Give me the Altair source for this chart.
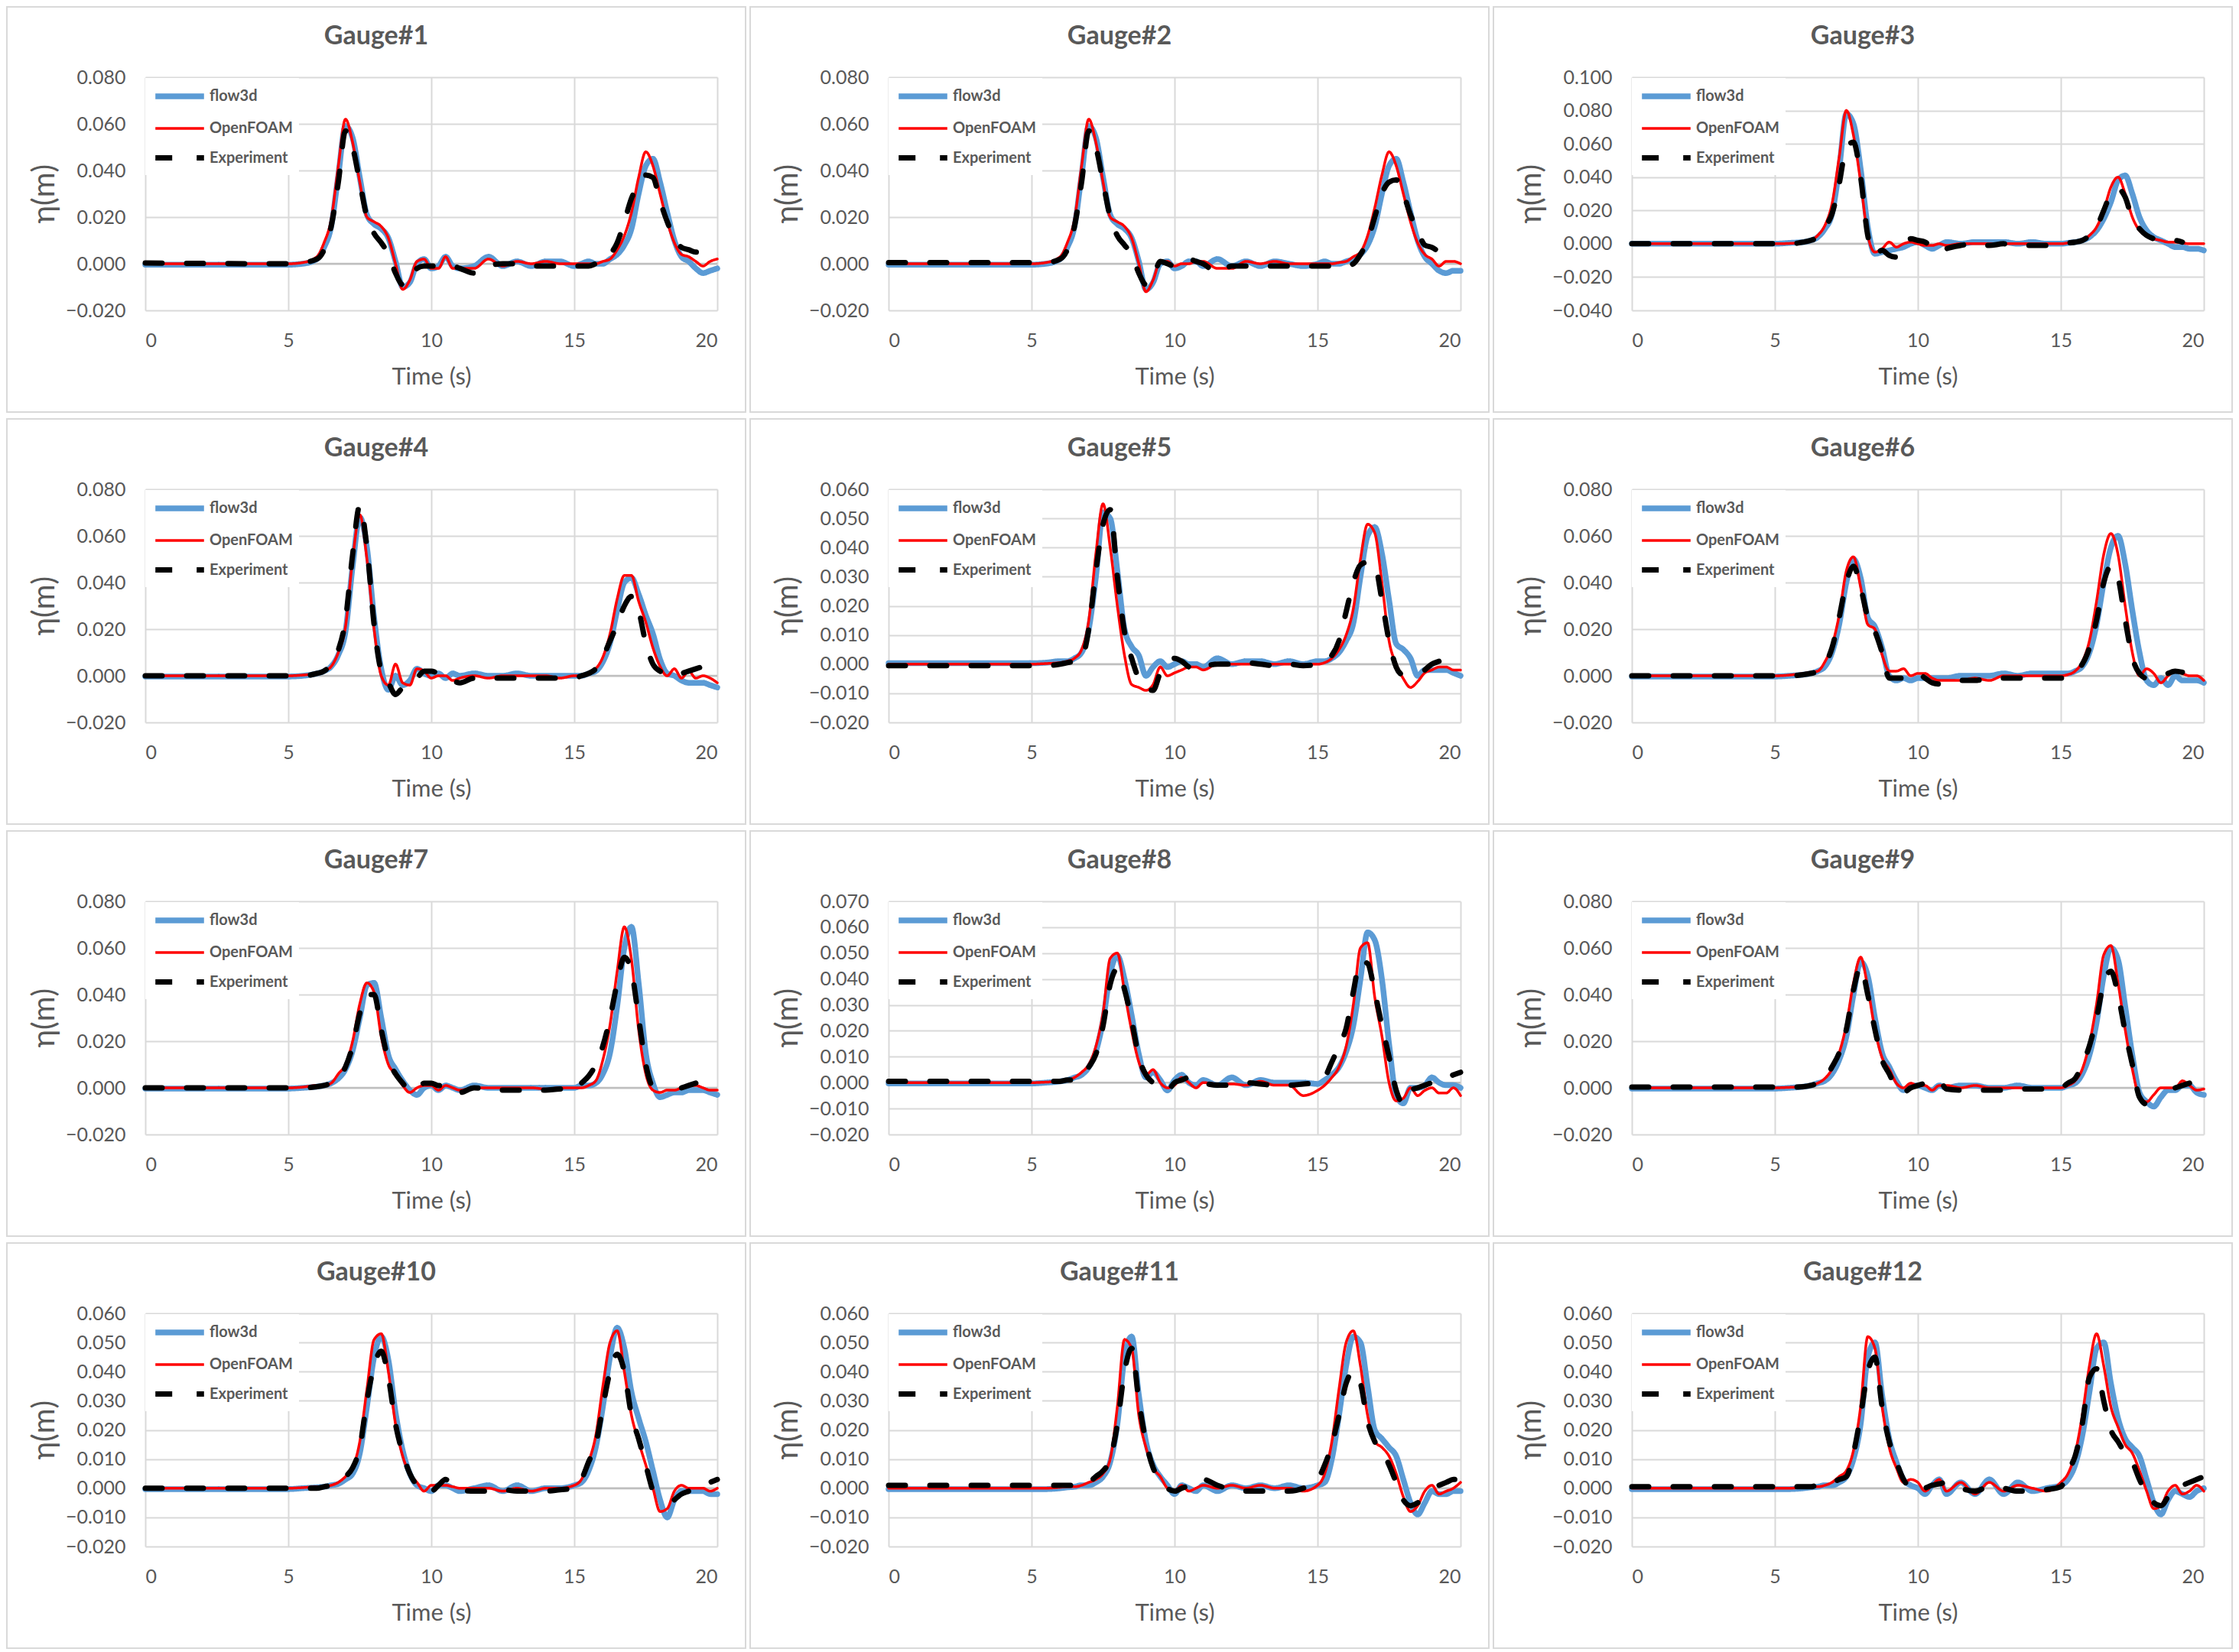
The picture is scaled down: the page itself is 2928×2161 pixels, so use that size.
import altair as alt
import pandas as pd

N = None

# shared time grid (s)
T = [0, 5, 5.5, 6, 6.25, 6.5, 6.75,
     7, 7.25, 7.5, 7.75, 8, 8.25, 8.5, 8.75, 9, 9.25, 9.5, 9.75,
     10, 10.25, 10.5, 10.75, 11, 11.5, 12, 12.5, 13, 13.5, 14, 14.5, 15,
     15.25, 15.5, 15.75, 16, 16.25, 16.5, 16.75, 17, 17.25, 17.5, 17.75, 18, 18.25, 18.5, 18.75, 19, 19.25, 19.5, 19.75, 20]

# surface elevation values in mm (converted to m below)
F1 = [-0.4, -0.4, 0, 2, 7, 16, 38,
      59, 54, 37, 21, 17, 15, 11, 1, -10, -8, 0, 2,
      -2, -1, 3, -1, -2, -1, 3, -1, 1, -1, 1, 1, -1,
      0, 1, 0, 0, 2, 4, 8, 15, 30, 42, 45, 35, 22, 10, 3, 1, -2, -4, -3, -2]
O1 = [0, 0, 0.5, 3, 9, 19, 42,
      62, 52, 35, 20, 18, 16, 11, 0, -11, -7, 1, 2,
      -2, -2, 3, -2, -2, -2, 2, -1, 1, 0, 1, 0, 0,
      0, 0, 0, 1, 2, 6, 12, 22, 37, 48, 42, 30, 18, 9, 4, 3, 1, -1, 1, 2]
E1 = [0.3, 0, 0.5, 2, 6, 16, 35,
      57, 50, 35, 20, 13, 9, 4, -4, -9, -8, -2, -1,
      -1, -1, -1, -1, -2, -4, -1, 0, 0, -1, -1, -1, -1,
      -1, -1, 0, 1, 4, 9, 18, 28, 34, 38, 37, 27, 18, 11, 7, 6, 5, 5, 4, 3]

F2 = [-0.4, -0.4, 0, 2, 7, 16, 38,
      59, 54, 37, 21, 17, 15, 11, 1, -11, -8, 0, 1,
      -2, -1, 1, 1, -1, 2, -1, 1, -1, 1, 0, -1, 0,
      1, 0, 0, 1, 2, 4, 8, 16, 30, 42, 45, 35, 22, 10, 3, 0, -3, -4, -3, -3]
O2 = [0, 0, 0.5, 3, 9, 19, 42,
      62, 52, 35, 20, 18, 16, 11, 0, -12, -7, 1, 1,
      -1, 0, 0, 1, 1, -2, -2, 1, 0, 1, 0, 0, 0,
      0, 0, 0.5, 1, 3, 5, 12, 24, 38, 48, 42, 30, 18, 9, 4, 2, -1, 1, 1, 0]
E2 = [0.5, 0.5, 0.5, 2, 6, 16, 35,
      57, 50, 35, 20, 12, 8, 4, -4, -9, -6, 1, 0,
      -1, 0, 2, 1, 0, -4, -1, -1, -1, -1, -1, -1, -1,
      -1, -1, -1, -1, 0, 4, 10, 20, 30, 35, 36, 30, 21, 14, 8, 7, 5, N, N, N]

F3 = [0, 0, 0.5, 1, 2, 4, 9,
      18, 45, 78, 72, 45, 10, -6, -5, -4, -3, -2, 0,
      1, -1, -3, -1, 1, 0, 1, 1, 1, 0, 1, 0, 0,
      0.5, 1, 2, 4, 8, 15, 25, 38, 41, 30, 16, 8, 4, 2, 0, -2, -2, -3, -3, -4]
O3 = [0, 0, 0.2, 1, 2, 5, 11,
      24, 52, 80, 65, 37, 5, -5, -3, 1, -2, 0, 1,
      0, -1, -1, 0, -1, 0, 0, 0, 0, 0, 0, 0, 0,
      0.5, 1, 2, 5, 10, 20, 34, 40, 30, 16, 8, 5, 3, 2, 1, 1, 0.5, 0, 0, 0]
E3 = [0, 0, 0, 1, 2, 4, 10,
      18, 36, 58, 61, 40, 5, -6, -4, -7, -8, -2, 3,
      2, 1, -2, -5, -3, -1, 0, -1, 0, -1, -1, -1, 0,
      0.5, 1, 2, 5, 10, 20, 30, 33, 28, 15, 9, 5, 3, 2, 2, 2, 1, N, N, N]

F4 = [-0.3, -0.3, 0, 1, 2, 4, 9,
      19, 47, 68, 55, 25, 3, -6, 0, -4, -2, 3, 1,
      0, 1, -1, 1, 0, 1, 0, 0, 1, 0, 0, 0, 0,
      0, 1, 2, 6, 14, 28, 40, 42, 35, 26, 18, 7, 1, 0, -2, -3, -3, -3, -4, -5]
O4 = [0, 0, 0.3, 1, 2, 4, 10,
      21, 50, 69, 50, 20, 0, -4, 5, -3, -4, 3, 2,
      -1, 0, 0, -2, -1, 0, -1, 0, 0, 0, 0, -1, 0,
      0, 1, 3, 8, 18, 33, 43, 43, 32, 23, 12, 4, 0, 3, -1, 2, -1, 0, -1, -3]
E4 = [0, 0, 0, 1, 2, 5, 11,
      24, 52, 73, 55, 22, 2, -3, -8, -5, -3, -1, 2,
      2, 1, 0, -2, -3, -1, -1, -1, -1, -1, -1, -1, -1,
      0, 1, 3, 8, 15, 22, 30, 34, 28, 14, 5, 2, 1, 0, 1, 2, 3, 4, N, N]

F5 = [0.3, 0.3, 0.5, 1, 1, 2, 4,
      12, 30, 52, 50, 32, 12, 6, 3, -4, -1, 1, -1,
      0, 1, 0, 0, -1, 2, 0, 1, 1, 0, 1, 0, 1,
      1, 2, 4, 8, 14, 30, 44, 47, 38, 22, 7, 5, 2, -4, -2, -2, -2, -2, -3, -4]
O5 = [0, 0, 0.2, 0.5, 1, 2, 5,
      15, 38, 55, 40, 20, 3, -7, -8, -9, -7, -1, -4,
      -3, -2, -1, -1, -2, 0, 0, 0, 0, 0, 0, 0, 0,
      0.5, 2, 5, 10, 19, 36, 48, 45, 28, 8, 0, -5, -8, -6, -3, -2, -1, -1, -2, -2]
E5 = [-0.5, -0.5, -0.5, 0, 0.5, 1, 2,
      12, 32, 48, 53, 30, 11, 2, -5, -8, -9, -3, 0,
      2, 1, -1, -2, -1, 0, 0, 0.5, 0, -0.5, 0, -0.5, 0,
      1, 3, 8, 18, 28, 34, 35, 34, 22, 8, -1, -4, N, N, -2, 0, 1, 2, 3, 4]

F6 = [-0.3, -0.3, 0, 0.5, 1, 2, 4,
      10, 22, 40, 50, 42, 25, 21, 12, 0, -2, -1, -2,
      -1, -1, -1, -1, -1, 0, 0, 0, 1, 0, 1, 1, 1,
      1, 2, 4, 10, 22, 40, 55, 60, 48, 28, 10, -2, -4, -1, -4, 0, -2, -2, -2, -3]
O6 = [0, 0, 0.3, 1, 1.5, 2, 6,
      13, 26, 45, 51, 38, 22, 20, 9, 2, 2, 3, 0,
      1, 1, -1, -2, -2, -2, -1, -2, 0, 0, 0, 0, 0,
      0.5, 2, 6, 15, 32, 52, 61, 52, 30, 10, 0, 3, 1, -3, 0, 2, 1, 0, 0, -2]
E6 = [0, 0, 0, 0.5, 1, 2, 5,
      12, 25, 40, 47, 38, 25, 19, 10, -1, -1, -1, -0.5,
      1, -1, -3, -3.5, -3.5, -2, -2, -1, -1, -1, -1, -1, -1,
      0, 2, 5, 12, 24, 40, 47, 42, 24, 8, 1, -1, -1, N, 1, 2, 1.5, N, N, N]

F7 = [-0.3, -0.3, 0, 0.5, 1, 2, 4,
      8, 16, 30, 44, 45, 30, 14, 8, 3, -1, -3, 0,
      1, -1, 1, 0, -1, 1, 0, 0, 0, 0, 0, 0, 0,
      1, 1, 2, 6, 15, 35, 60, 69, 45, 15, 2, -4, -3, -2, -2, -1, -1, -1, -2, -3]
O7 = [0, 0, 0.3, 1, 1, 2, 6,
      10, 20, 36, 45, 41, 22, 10, 6, 1, -2, 0, 1,
      1, -1, 1, 0, -1, 0, 0, 0, 0, 0, -0.5, 0, 0,
      0, 1, 3, 12, 27, 50, 69, 55, 25, 6, -1, -2, -1, -1, 0, 1, 1, 0, -1, -1]
E7 = [0, 0, 0, 0.5, 1, 2, 4,
      9, 18, 32, 40, 40, 25, 12, 6, 2, -1, -1, 2,
      2, 1, 1, 0, -2, 0, -0.5, -1, -1, -1, -1, -0.5, -1,
      2, 5, 10, 18, 30, 45, 56, 50, 30, 10, 0, -2, N, N, 0, 1, 2, N, N, N]

F8 = [-0.3, -0.3, 0, 0.5, 1, 2, 3,
      6, 12, 24, 42, 49, 40, 26, 11, 2, 4, 1, -3,
      1, 3, 0, -1, 1, -1, 2, -1, 1, 0, 0, 0, -0.5,
      1, 3, 6, 12, 22, 40, 58, 55, 40, 15, -5, -8, -2, -2, -1, 2, 0, -1, -1, -2]
O8 = [0, 0, 0.2, 0.5, 1, 2, 4,
      7, 14, 27, 48, 50, 35, 20, 8, 3, 5, 0, -2,
      -1, 2, 0, -2, 0, -0.5, -0.5, -1, 0.5, -1, -1, -5, -3,
      -1, 2, 6, 14, 30, 52, 54, 33, 18, 0, -7, -6, -2, -5, -3, -2, -4, -4, -2, -5]
E8 = [0.5, 0.5, 0.5, 0.5, 1, 1, 2,
      6, 11, 22, 38, 44, 36, 24, 10, 3, 0, -1, -3,
      0, 1, 2, 1, 0, -1, -1, 0, -0.5, -1, -1, -0.5, 0,
      2, 8, 14, 21, 35, 47, 46, 35, 22, 10, -3, -8, -3, -2, -1, 0, 1, 2, 3, 4]

F9 = [-0.3, -0.3, 0, 0.5, 1, 2, 3,
      6, 12, 22, 40, 54, 48, 30, 15, 9, 3, -1, 1,
      1, 0, -1, 1, 0, 1, 1, 0, 0, 1, 0, 0, 0,
      1, 2, 6, 14, 28, 48, 60, 55, 35, 14, -2, -6, -8, -4, -1, -1, 1, 1, -2, -3]
O9 = [0, 0, 0.2, 0.5, 1, 2, 4,
      8, 15, 27, 45, 56, 43, 25, 13, 8, 2, 0, 2,
      1, 1, -1, 1, 1, 0, 1, 0, 0, 0, -0.5, 0, 0,
      1, 3, 8, 19, 36, 57, 61, 45, 25, 8, -4, -6, -3, 0, 0, 0, 3, 1, -1, -0.5]
E9 = [0.3, 0.3, 0.3, 0.5, 1, 2, 4,
      9, 15, 25, 42, 52, 40, 25, 12, 6, 0, -2, 0,
      1, 2, 3, 3, -0.5, -1, -1, -1, -1, -0.5, -0.5, -0.5, 0,
      2, 4, 10, 18, 30, 45, 50, 40, 24, 10, -4, -7, -3, N, N, 0, 1, 2, N, N]

F10 = [-0.3, -0.3, 0, 0.3, 0.5, 1, 1.5,
       3, 5, 12, 28, 45, 52, 44, 26, 13, 5, 1, 0,
       -1, 1, 1, 0, -1, 0, 1, -1, 1, -1, 0, 0, 1,
       2, 6, 14, 28, 45, 55, 48, 33, 24, 16, 6, -4, -10, -4, -1, -1, -1, -1, -2, -2]
O10 = [0, 0, 0.2, 0.5, 0.5, 1, 2,
       4, 7, 16, 34, 51, 53, 40, 22, 11, 5, 2, -1,
       1, 1, 1, 0.5, 0, 0, 0, -1, 0, -1, 0, 0, 1,
       3, 9, 18, 35, 50, 54, 40, 25, 16, 8, 0, -8, -7, -1, 1, 0, 0, 0, -1, 0]
E10 = [0, 0, 0, 0, 0.5, 1, 2,
       4, 7, 14, 30, 42, 47, 38, 22, 12, 5, 1, -1,
       -1, 1, 3, 1, -0.5, -1, -1, -0.5, -1, -1, -1, -0.5, 0,
       3, 9, 15, 28, 40, 46, 40, 25, 17, 8, -1, -6, N, -4, -2, -1, 0, 1, 2, 3]

F11 = [-0.3, -0.3, -0.3, 0, 0.3, 0.5, 1,
       1, 2, 4, 9, 22, 45, 52, 32, 16, 8, 4, 1,
       -2, 1, 0, -1, 1, -1, 1, 0, 1, 0, 1, 0, 1,
       2, 10, 25, 42, 52, 50, 35, 20, 17, 14, 11, 3, -5, -9, -5, -1, -2, -2, -1, -1]
O11 = [0, 0, 0, 0.3, 0.5, 0.5, 1,
       2, 3, 5, 10, 28, 51, 48, 25, 14, 7, 4, 0,
       -1, 1, -1, 0, 1, 0, 1, 0, 1, 0, 0, -1, 1,
       5, 16, 34, 50, 54, 42, 25, 16, 14, 11, 5, -3, -8, -6, -1, 1, -2, -1, 0, 2]
E11 = [1, 1, 1, 1, 1, 1, 1,
       2, 4, 6, 10, 22, 40, 48, 30, 16, 7, 3, 0,
       -1, 0, 1, 3, 3, 1, -0.5, -1, -1, -1, -1, 0, 3,
       8, 15, 25, 36, 40, 36, 23, 16, 13, 8, 2, -4, -6, -5, -3, N, 1, 2, 3, 3]

F12 = [-0.3, -0.3, -0.3, 0, 0.3, 0.5, 1,
       1, 2, 4, 10, 22, 45, 50, 32, 17, 9, 3, 1,
       0, -2, 1, 3, -2, 2, -2, 3, -2, 2, -1, 0, 1,
       3, 8, 18, 33, 48, 50, 36, 24, 17, 14, 11, 3, -5, -9, -4, -1, -2, -3, -1, 0]
O12 = [0, 0, 0, 0.3, 0.5, 0.5, 1,
       2, 4, 6, 13, 28, 52, 48, 28, 14, 7, 2, 3,
       2, -1, 1, 3, -1, 2, -2, 2, -1, 1, 0, -1, 2,
       5, 12, 25, 42, 53, 42, 28, 21, 15, 12, 6, -1, -7, -6, -1, 1, -2, -1, 1, -1]
E12 = [0.5, 0.5, 0.5, 0.5, 0.5, 1, 1,
       2, 3, 4, 12, 25, 40, 45, 28, 16, 9, 3, 0,
       -1, 0, 1, 1.5, 2, 0, -1, 0.5, 0, -1, -1, -0.5, 0.5,
       6, 11, 22, 38, 41, 30, 20, 16, 12, 9, 3, -2, -5, -6, -3, 0, 1, 2, 3, 4]

# y-axis tick values per panel
YT_A = [-0.02, 0.0, 0.02, 0.04, 0.06, 0.08]
YT_3 = [-0.04, -0.02, 0.0, 0.02, 0.04, 0.06, 0.08, 0.10]
YT_6 = [-0.02, -0.01, 0.0, 0.01, 0.02, 0.03, 0.04, 0.05, 0.06]
YT_7 = [-0.02, -0.01, 0.0, 0.01, 0.02, 0.03, 0.04, 0.05, 0.06, 0.07]
XT = [0, 5, 10, 15, 20]

PANELS = [
    ("Gauge#1", YT_A, F1, O1, E1),
    ("Gauge#2", YT_A, F2, O2, E2),
    ("Gauge#3", YT_3, F3, O3, E3),
    ("Gauge#4", YT_A, F4, O4, E4),
    ("Gauge#5", YT_6, F5, O5, E5),
    ("Gauge#6", YT_A, F6, O6, E6),
    ("Gauge#7", YT_A, F7, O7, E7),
    ("Gauge#8", YT_7, F8, O8, E8),
    ("Gauge#9", YT_A, F9, O9, E9),
    ("Gauge#10", YT_6, F10, O10, E10),
    ("Gauge#11", YT_6, F11, O11, E11),
    ("Gauge#12", YT_6, F12, O12, E12),
]

SERIES = ["flow3d", "OpenFOAM", "Experiment"]
COLORS = ["#5B9BD5", "#FF0000", "#000000"]
WIDTHS = [7.5, 3.5, 7]
DASHES = [[1, 0], [1, 0], [22, 32]]
Y_TITLE = "η(m)"
X_TITLE = "Time (s)"

W, H = 748, 305
GREY = "#595959"
FONT = "Lato"


def long_frame(f, o, e):
    rows = []
    for name, vals in zip(SERIES, (f, o, e)):
        if len(vals) != len(T):
            raise ValueError(f"{name}: {len(vals)} values for {len(T)} times")
        for t, v in zip(T, vals):
            rows.append({"t": t, "eta": (v / 1000.0) if v is not None else None, "series": name})
    return pd.DataFrame(rows)


def panel(title, yticks, f, o, e):
    df = long_frame(f, o, e)
    legend = alt.Legend(
        title=None, orient="none", legendX=0, legendY=1,
        fillColor="white", padding=8,
        symbolType="M-0.9,0H4.4", symbolSize=576,
        labelOffset=44, rowPadding=13,
        labelFont=FONT, labelFontSize=20, labelFontWeight="bold", labelColor=GREY,
    )
    xaxis = alt.Axis(values=XT, format="d", title=X_TITLE,
                     labelPadding=27, titleY=87, titleBaseline="middle")
    yaxis = alt.Axis(values=yticks, format=".3f", title=None, labelOverlap=False, labelPadding=26)
    x = alt.X("t:Q", scale=alt.Scale(domain=[0, 20], nice=False), axis=xaxis)
    yscale = alt.Scale(domain=[yticks[0], yticks[-1]], nice=False, zero=False)
    y = alt.Y("eta:Q", scale=yscale, axis=yaxis)
    color = alt.Color("series:N", scale=alt.Scale(domain=SERIES, range=COLORS), legend=legend)
    width = alt.StrokeWidth("series:N", scale=alt.Scale(type="ordinal", domain=SERIES, range=WIDTHS),
                            legend=legend)
    dash = alt.StrokeDash("series:N", scale=alt.Scale(domain=SERIES, range=DASHES), legend=legend)

    one = pd.DataFrame({"label": [title], "ytitle": [Y_TITLE], "eta": [0.0]})
    frame = alt.Chart(one).mark_rect(fillOpacity=0, stroke="#D9D9D9", strokeWidth=2).encode(
        x=alt.value(-181), x2=alt.value(W + 37), y=alt.value(-92), y2=alt.value(H + 133))
    zero = alt.Chart(one).mark_rule(color="#BFBFBF", strokeWidth=2.5).encode(y=y)
    base = alt.Chart(df)
    lines = [
        base.transform_filter(alt.datum.series == s)
        .mark_line(interpolate="monotone", strokeCap="round", strokeJoin="round")
        .encode(x=x, y=y, color=color, strokeWidth=width, strokeDash=dash)
        for s in SERIES
    ]
    head = alt.Chart(one).mark_text(font=FONT, fontSize=34, fontWeight="bold", color=GREY,
                                    align="center", baseline="middle").encode(
        text="label:N", x=alt.value(302), y=alt.value(-53))
    ylab = alt.Chart(one).mark_text(font=FONT, fontSize=40, color=GREY, angle=270,
                                    align="center", baseline="middle").encode(
        text="ytitle:N", x=alt.value(-131), y=alt.value(H / 2))
    return alt.layer(frame, zero, *lines, head, ylab).properties(width=W, height=H)


chart = alt.concat(*[panel(*p) for p in PANELS], columns=3,
                   spacing={"row": 7, "column": 4}).resolve_scale(
    x="independent", y="independent", color="independent",
    strokeWidth="independent", strokeDash="independent"
).properties(padding=0).configure(
    background="white", font=FONT
).configure_view(
    strokeWidth=0
).configure_axis(
    grid=True, gridColor="#D9D9D9", gridWidth=2, domain=False, ticks=False,
    labelFont=FONT, labelFontSize=25, labelColor=GREY,
    titleFont=FONT, titleFontSize=31, titleFontWeight="normal", titleColor=GREY
)

chart.save("out.html", embed_options={"renderer": "svg", "actions": False})
